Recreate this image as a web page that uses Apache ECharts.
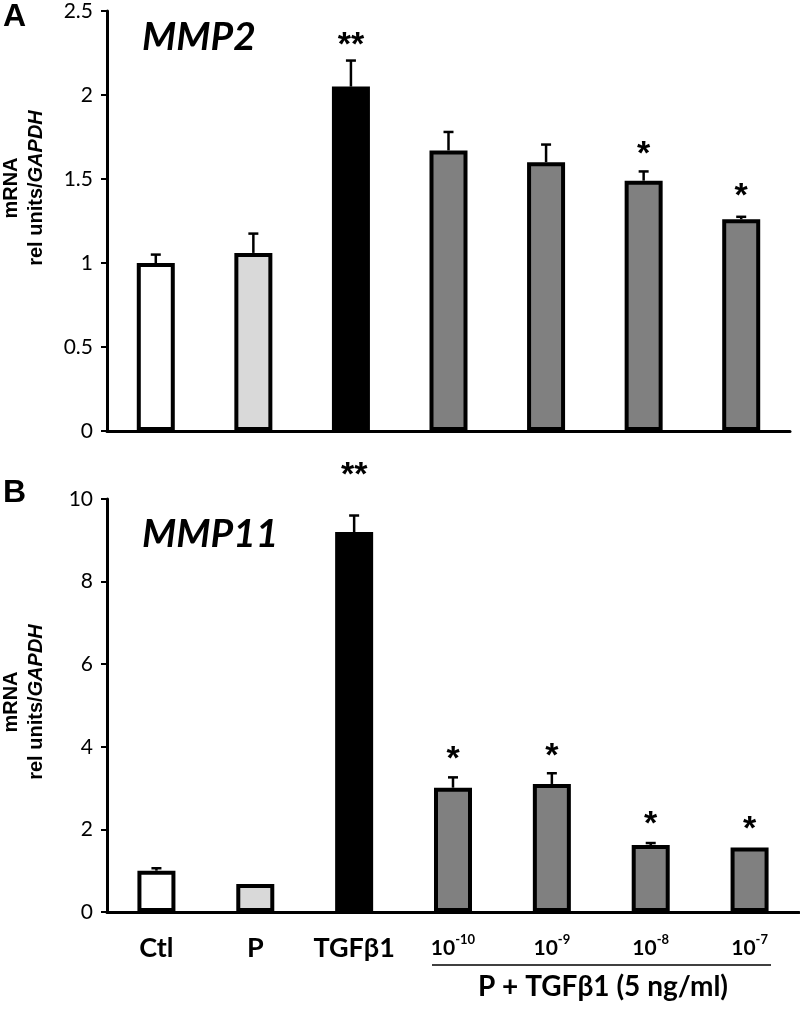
<!DOCTYPE html>
<html><head><meta charset="utf-8">
<script src="https://cdn.jsdelivr.net/npm/echarts@6/dist/echarts.min.js"></script>
<style>html,body{margin:0;padding:0;background:#fff}#c{width:800px;height:1009px}</style>
</head><body><div id="c"></div>
<script>
const categories = ['Ctl', 'P', 'TGFβ1', '10^-10', '10^-9', '10^-8', '10^-7'];
const mmp2Values = [1.00, 1.06, 2.05, 1.67, 1.60, 1.49, 1.26];
const mmp2Errors = [0.05, 0.115, 0.155, 0.11, 0.105, 0.055, 0.015];
const mmp2Sig = ['', '', '**', '', '', '*', '*'];
const mmp2SigLevel = [0, 0, 2.33, 0, 0, 1.68, 1.43];
const mmp11Values = [1.00, 0.68, 9.20, 3.01, 3.10, 1.62, 1.56];
const mmp11Errors = [0.06, 0.0, 0.40, 0.25, 0.26, 0.05, 0.0];
const mmp11Sig = ['', '', '**', '*', '*', '*', '*'];
const mmp11SigLevel = [0, 0, 10.7, 3.84, 3.90, 2.25, 2.15];
const topTicks = [0, 2.5, 0.5];
const bottomTicks = [0, 10, 2];
const barColors = ['#ffffff', '#d9d9d9', '#000000', '#808080', '#808080', '#808080', '#808080'];

const chart = echarts.init(document.getElementById('c'), null, {renderer: 'canvas'});
const tickFont = 'Lato';
const arial = 'Liberation Sans';

function errSeries(xi, yi, vals, errs, sigs, sigLevels) {
  return {
    type: 'custom', xAxisIndex: xi, yAxisIndex: yi, z: 5,
    data: vals.map((v, i) => [i, v, errs[i]]),
    renderItem: function (params, api) {
      const i = params.dataIndex;
      const x = api.value(0), v = api.value(1), e = api.value(2);
      const p0 = api.coord([x, v]);
      const p1 = api.coord([x, v + e]);
      const children = [];
      if (e > 0) {
        children.push({type: 'line', shape: {x1: p0[0], y1: p0[1], x2: p1[0], y2: p1[1]}, style: {stroke: '#000', lineWidth: 2.5}});
        children.push({type: 'line', shape: {x1: p1[0] - 5, y1: p1[1], x2: p1[0] + 5, y2: p1[1]}, style: {stroke: '#000', lineWidth: 2.5}});
      }
      if (sigs[i]) {
        const ps = api.coord([x, sigLevels[i]]);
        children.push({type: 'text', x: ps[0], y: ps[1] + 6, style: {text: sigs[i], fill: '#000', fontSize: 34, fontWeight: 'bold', fontFamily: arial, align: 'center', verticalAlign: 'middle'}});
      }
      return {type: 'group', children: children};
    }
  };
}

function barSeries(xi, yi, vals) {
  return {
    type: 'bar', xAxisIndex: xi, yAxisIndex: yi, barWidth: 38, z: 3,
    data: vals.map((v, i) => ({value: v, itemStyle: {color: barColors[i]}})),
    itemStyle: {borderColor: '#000', borderWidth: 4}
  };
}

function catLabel(s) {
  if (s.indexOf('^') >= 0) {
    const parts = s.split('^');
    return '{b|' + parts[0] + '}{s|' + parts[1] + '}';
  }
  return '{m|' + s + '}';
}

const yNameRich = {
  a: {fontSize: 20, fontWeight: 'bold', fontFamily: arial, fill: '#000', lineHeight: 25},
  i: {fontSize: 20, fontWeight: 'bold', fontStyle: 'italic', fontFamily: arial, fill: '#000', lineHeight: 25}
};

const option = {
  backgroundColor: '#fff',
  animation: false,
  grid: [
    {left: 107, top: 11, width: 683, height: 420},
    {left: 107, top: 499, width: 692, height: 413}
  ],
  xAxis: [
    {type: 'category', gridIndex: 0, data: categories,
     axisLine: {lineStyle: {color: '#000', width: 3}}, axisTick: {show: false}, axisLabel: {show: false}},
    {type: 'category', gridIndex: 1, data: categories,
     axisLine: {lineStyle: {color: '#000', width: 3}}, axisTick: {show: false},
     axisLabel: {margin: 21, formatter: catLabel, rich: {
       m: {fontFamily: tickFont, fontWeight: 'bold', fontSize: 27, color: '#000', lineHeight: 30},
       b: {fontFamily: tickFont, fontWeight: 'bold', fontSize: 21, color: '#000', lineHeight: 30},
       s: {fontFamily: tickFont, fontWeight: 'bold', fontSize: 13, color: '#000', verticalAlign: 'top', lineHeight: 16}
     }}}
  ],
  yAxis: [
    {type: 'value', gridIndex: 0, min: topTicks[0], max: topTicks[1], interval: topTicks[2],
     axisLine: {show: true, lineStyle: {color: '#000', width: 3}},
     axisTick: {show: true, length: 6, lineStyle: {color: '#000', width: 2}},
     splitLine: {show: false},
     axisLabel: {fontFamily: tickFont, fontSize: 21, color: '#000', margin: 14}},
    {type: 'value', gridIndex: 1, min: bottomTicks[0], max: bottomTicks[1], interval: bottomTicks[2],
     axisLine: {show: true, lineStyle: {color: '#000', width: 3}},
     axisTick: {show: true, length: 6, lineStyle: {color: '#000', width: 2}},
     splitLine: {show: false},
     axisLabel: {fontFamily: tickFont, fontSize: 21, color: '#000', margin: 14}}
  ],
  series: [
    barSeries(0, 0, mmp2Values),
    errSeries(0, 0, mmp2Values, mmp2Errors, mmp2Sig, mmp2SigLevel),
    barSeries(1, 1, mmp11Values),
    errSeries(1, 1, mmp11Values, mmp11Errors, mmp11Sig, mmp11SigLevel)
  ],
  graphic: [
    {type: 'text', left: 3, top: 1, style: {text: 'A', fontSize: 32, fontWeight: 'bold', fontFamily: arial, fill: '#000'}},
    {type: 'text', left: 3, top: 477, style: {text: 'B', fontSize: 32, fontWeight: 'bold', fontFamily: arial, fill: '#000'}},
    {type: 'text', left: 142, top: 18, style: {text: 'MMP2', fontSize: 39, fontWeight: 'bold', fontStyle: 'italic', fontFamily: tickFont, fill: '#000'}},
    {type: 'text', left: 142, top: 515, style: {text: 'MMP11', fontSize: 39, fontWeight: 'bold', fontStyle: 'italic', fontFamily: tickFont, fill: '#000'}},
    {type: 'text', x: 24, y: 188, rotation: Math.PI / 2,
     style: {text: '{a|mRNA}\n{a|rel units/}{i|GAPDH}', rich: yNameRich, align: 'center', verticalAlign: 'middle'}},
    {type: 'text', x: 24, y: 702, rotation: Math.PI / 2,
     style: {text: '{a|mRNA}\n{a|rel units/}{i|GAPDH}', rich: yNameRich, align: 'center', verticalAlign: 'middle'}},
    {type: 'line', shape: {x1: 432, y1: 965, x2: 771, y2: 965}, style: {stroke: '#000', lineWidth: 1.5}},
    {type: 'text', x: 603, y: 987, style: {text: 'P + TGFβ1 (5 ng/ml)', fontSize: 28, fontWeight: 'bold', fontFamily: tickFont, fill: '#000', align: 'center', verticalAlign: 'middle'}}
  ]
};
chart.setOption(option);
</script></body></html>
